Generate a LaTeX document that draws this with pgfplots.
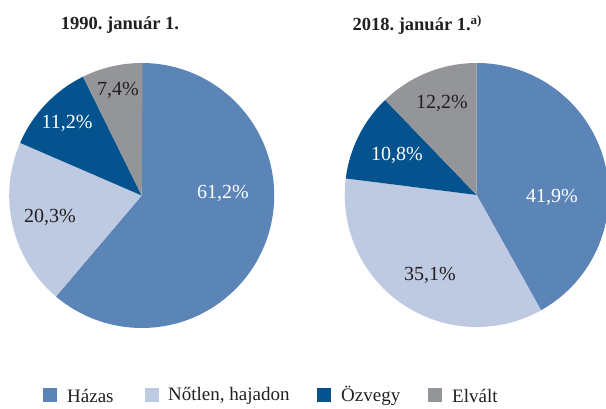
\documentclass[border=0pt]{standalone}
\usepackage{pgfplots}
\pgfplotsset{compat=1.18}
\usepackage{pgfplotstable}
\usepackage{fontspec}
\setmainfont{Liberation Serif}
\frenchspacing
\definecolor{hazas}{HTML}{5B84B7}
\definecolor{notlen}{HTML}{BECAE2}
\definecolor{ozvegy}{HTML}{04538F}
\definecolor{elvalt}{HTML}{939598}
\definecolor{txt}{HTML}{231F20}
\pgfplotstableread{
cat y1990 y2018
Hazas 61.2 41.9
Notlen 20.3 35.1
Ozvegy 11.2 10.8
Elvalt 7.4 12.2
}\piedata
\newcommand{\sector}[6]{% cx cy r start delta color
  \fill[#6] (axis cs:#1,#2) -- ++({#4}:#3pt) arc[start angle={#4}, delta angle={#5}, radius=#3pt] -- cycle;}
\begin{document}
\pgfplotstablegetelem{0}{y1990}\of\piedata\let\aA\pgfplotsretval
\pgfplotstablegetelem{1}{y1990}\of\piedata\let\aB\pgfplotsretval
\pgfplotstablegetelem{2}{y1990}\of\piedata\let\aC\pgfplotsretval
\pgfplotstablegetelem{3}{y1990}\of\piedata\let\aD\pgfplotsretval
\pgfplotstablegetelem{0}{y2018}\of\piedata\let\bA\pgfplotsretval
\pgfplotstablegetelem{1}{y2018}\of\piedata\let\bB\pgfplotsretval
\pgfplotstablegetelem{2}{y2018}\of\piedata\let\bC\pgfplotsretval
\pgfplotstablegetelem{3}{y2018}\of\piedata\let\bD\pgfplotsretval
\begin{tikzpicture}
\begin{axis}[
  width=606pt, height=409pt, scale only axis,
  xmin=0, xmax=606, ymin=0, ymax=409,
  hide axis, clip=true,
]
% 1990 pie
\sector{141.7}{213.5}{132.5}{90}{-3.6*\aA}{hazas}
\sector{141.7}{213.5}{132.5}{90-3.6*\aA}{-3.6*\aB}{notlen}
\sector{141.7}{213.5}{132.5}{90-3.6*(\aA+\aB)}{-3.6*\aC}{ozvegy}
\sector{141.7}{213.5}{132.5}{90-3.6*(\aA+\aB+\aC)}{-3.6*\aD}{elvalt}
% 2018 pie
\sector{476.7}{214}{132}{90}{-3.6*\bA}{hazas}
\sector{476.7}{214}{132}{90-3.6*\bA}{-3.6*\bB}{notlen}
\sector{476.7}{214}{132}{90-3.6*(\bA+\bB)}{-3.6*\bC}{ozvegy}
\sector{476.7}{214}{132}{90-3.6*(\bA+\bB+\bC)}{-3.6*\bD}{elvalt}
% labels
\begin{scope}[every node/.style={font=\fontsize{20}{22}\selectfont}]
\node[white] at (axis cs:223,216) {61,2\%};
\node[txt] at (axis cs:50,192) {20,3\%};
\node[white] at (axis cs:67,286) {11,2\%};
\node[txt] at (axis cs:118,319) {7,4\%};
\node[white] at (axis cs:552,212) {41,9\%};
\node[txt] at (axis cs:430,134) {35,1\%};
\node[white] at (axis cs:397,254) {10,8\%};
\node[txt] at (axis cs:442,306) {12,2\%};
\end{scope}
% titles
\node[txt, font=\fontsize{18.5}{20}\selectfont\bfseries] at (axis cs:120,384) {1990. január 1.};
\node[txt, font=\fontsize{18.5}{20}\selectfont\bfseries, anchor=west] at (axis cs:349,384) {2018. január 1.\textsuperscript{a)}};
% legend
\begin{scope}[every node/.style={txt, font=\fontsize{19}{20}\selectfont, anchor=west, inner sep=0pt}]
\fill[hazas] (axis cs:43,7) rectangle (axis cs:57,21);
\node at (axis cs:67,13) {Házas};
\fill[notlen] (axis cs:145,7) rectangle (axis cs:159,21);
\node at (axis cs:168,13) {Nőtlen, hajadon};
\fill[ozvegy] (axis cs:317,7) rectangle (axis cs:331,21);
\node at (axis cs:341,13) {Özvegy};
\fill[elvalt] (axis cs:428,7) rectangle (axis cs:442,21);
\node at (axis cs:452,13) {Elvált};
\end{scope}
\coordinate (sw) at (axis cs:0,0);
\coordinate (ne) at (axis cs:606,409);
\end{axis}
\pgfresetboundingbox
\path (sw) rectangle (ne);
\end{tikzpicture}
\end{document}
